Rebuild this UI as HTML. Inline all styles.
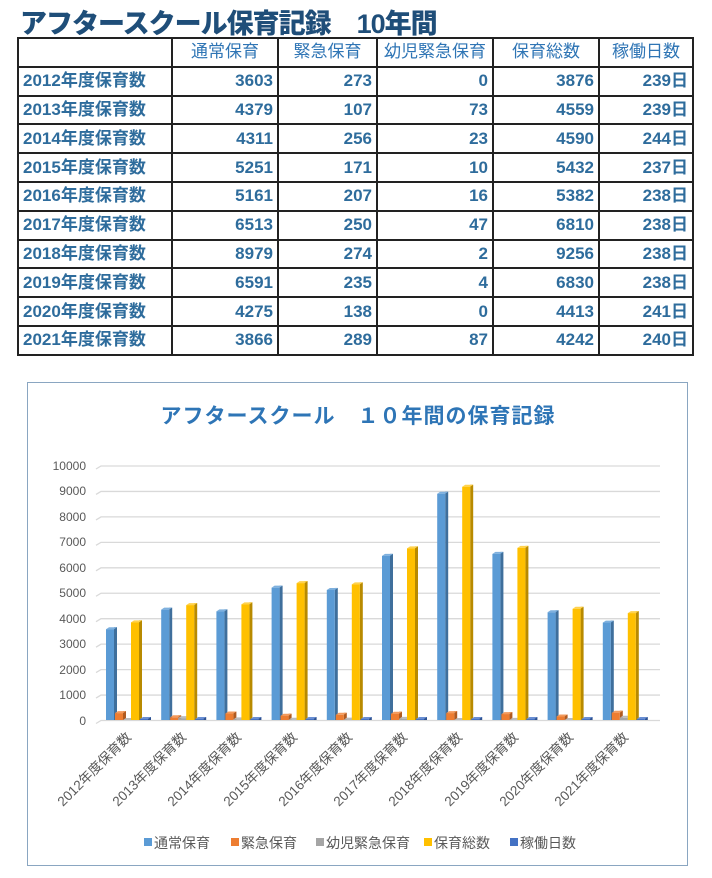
<!DOCTYPE html>
<html><head><meta charset="utf-8">
<style>
*{margin:0;padding:0;box-sizing:border-box}
body{width:712px;height:878px;background:#fff;position:relative;overflow:hidden;font-family:"Liberation Sans","Noto Sans CJK JP",sans-serif}
h1{position:absolute;left:20px;top:2px;font-size:27px;font-weight:900;color:#1f4e79;letter-spacing:-1px;white-space:nowrap}
table{position:absolute;left:17px;top:37px;border-collapse:collapse;width:677px}
td{border:2px solid #222;height:28.8px;font-size:17px;line-height:20px;color:#2e6c9c;font-weight:bold;padding:0 4px;text-align:right;white-space:nowrap;vertical-align:middle}
td:first-child{text-align:left;width:154px}
tr:first-child td{text-align:center;font-weight:normal;color:#2f75b5}
#chart{position:absolute;left:27px;top:382px;width:661px;height:484px;border:1.5px solid #8aa6c1}
svg{position:absolute;left:0;top:0}
</style></head><body>
<h1>アフタースクール保育記録　10年間</h1>
<table>
<tr><td style="width:154px"></td><td style="width:106px">通常保育</td><td style="width:99px">緊急保育</td><td style="width:116px">幼児緊急保育</td><td style="width:106px">保育総数</td><td>稼働日数</td></tr>
<tr><td>2012年度保育数</td><td>3603</td><td>273</td><td>0</td><td>3876</td><td>239日</td></tr>
<tr><td>2013年度保育数</td><td>4379</td><td>107</td><td>73</td><td>4559</td><td>239日</td></tr>
<tr><td>2014年度保育数</td><td>4311</td><td>256</td><td>23</td><td>4590</td><td>244日</td></tr>
<tr><td>2015年度保育数</td><td>5251</td><td>171</td><td>10</td><td>5432</td><td>237日</td></tr>
<tr><td>2016年度保育数</td><td>5161</td><td>207</td><td>16</td><td>5382</td><td>238日</td></tr>
<tr><td>2017年度保育数</td><td>6513</td><td>250</td><td>47</td><td>6810</td><td>238日</td></tr>
<tr><td>2018年度保育数</td><td>8979</td><td>274</td><td>2</td><td>9256</td><td>238日</td></tr>
<tr><td>2019年度保育数</td><td>6591</td><td>235</td><td>4</td><td>6830</td><td>238日</td></tr>
<tr><td>2020年度保育数</td><td>4275</td><td>138</td><td>0</td><td>4413</td><td>241日</td></tr>
<tr><td>2021年度保育数</td><td>3866</td><td>289</td><td>87</td><td>4242</td><td>240日</td></tr>
</table>
<div id="chart"></div>
<svg width="712" height="878" id="s" font-family="Liberation Sans, Noto Sans CJK JP, sans-serif">
<text x="358" y="423" text-anchor="middle" font-size="21" font-weight="bold" fill="#2e75b6" letter-spacing="1">アフタースクール　１０年間の保育記録</text>
<g id="grid" stroke="#d9d9d9" stroke-width="1.3" fill="none"></g>
<g font-size="12" fill="#595959" text-anchor="end">
<text x="86" y="470">10000</text><text x="86" y="495">9000</text><text x="86" y="521">8000</text><text x="86" y="546">7000</text><text x="86" y="572">6000</text><text x="86" y="597">5000</text><text x="86" y="623">4000</text><text x="86" y="648">3000</text><text x="86" y="674">2000</text><text x="86" y="699">1000</text><text x="86" y="725">0</text>
</g>
<g id="bars"></g>
<g font-size="13.5" fill="#595959" text-anchor="end">
<text transform="translate(132,738) rotate(-45)">2012年度保育数</text>
<text transform="translate(187,738) rotate(-45)">2013年度保育数</text>
<text transform="translate(242,738) rotate(-45)">2014年度保育数</text>
<text transform="translate(298,738) rotate(-45)">2015年度保育数</text>
<text transform="translate(353,738) rotate(-45)">2016年度保育数</text>
<text transform="translate(408,738) rotate(-45)">2017年度保育数</text>
<text transform="translate(463,738) rotate(-45)">2018年度保育数</text>
<text transform="translate(519,738) rotate(-45)">2019年度保育数</text>
<text transform="translate(574,738) rotate(-45)">2020年度保育数</text>
<text transform="translate(629,738) rotate(-45)">2021年度保育数</text>
</g>
<g font-size="14" fill="#595959">
<rect x="144" y="838" width="8" height="8" fill="#5b9bd5"/><text x="154" y="848">通常保育</text>
<rect x="231" y="838" width="8" height="8" fill="#ed7d31"/><text x="241" y="848">緊急保育</text>
<rect x="316" y="838" width="8" height="8" fill="#a5a5a5"/><text x="326" y="848">幼児緊急保育</text>
<rect x="424" y="838" width="8" height="8" fill="#ffc000"/><text x="434" y="848">保育総数</text>
<rect x="510" y="838" width="8" height="8" fill="#4472c4"/><text x="520" y="848">稼働日数</text>
</g>
</svg>
<script>
(function(){
var ns="http://www.w3.org/2000/svg";
var g=document.getElementById("grid"),b=document.getElementById("bars");
function el(p,t,a){var e=document.createElementNS(ns,t);for(var q in a)e.setAttribute(q,a[q]);p.appendChild(e);}
for(var k=0;k<=10;k++){var yy=720.5-25.45*k;el(g,"path",{d:"M96 "+(yy+3)+" L101 "+yy+" L660 "+yy});}
var d=[[3603,273,0,3876,40],[4379,107,73,4559,40],[4311,256,23,4590,40],[5251,171,10,5432,40],[5161,207,16,5382,40],[6513,250,47,6810,40],[8979,274,2,9256,40],[6591,235,4,6830,40],[4275,138,0,4413,40],[3866,289,87,4242,40]];
var c=[["#5b9bd5","#3f6f9c","#7eb0de"],["#ed7d31","#b05a20","#f29a5c"],["#a5a5a5","#777","#bbb"],["#ffc000","#b88a00","#ffd24d"],["#4472c4","#2f5290","#6a8fd2"]];
var off=[0,9,17,25,34];
for(var i=0;i<10;i++){var base=106+55.2*i;for(var s=0;s<5;s++){var h=d[i][s]*0.0252;var x=base+off[s],w=8,ty=720-h;
el(b,"rect",{x:x+w,y:ty-2,width:3,height:h+2,fill:c[s][1]});
el(b,"path",{d:"M"+x+" "+ty+" L"+(x+3)+" "+(ty-2)+" L"+(x+w+3)+" "+(ty-2)+" L"+(x+w)+" "+ty+"Z",fill:c[s][2]});
el(b,"rect",{x:x,y:ty,width:w,height:h,fill:c[s][0]});}}
})();
</script>
</body></html>
